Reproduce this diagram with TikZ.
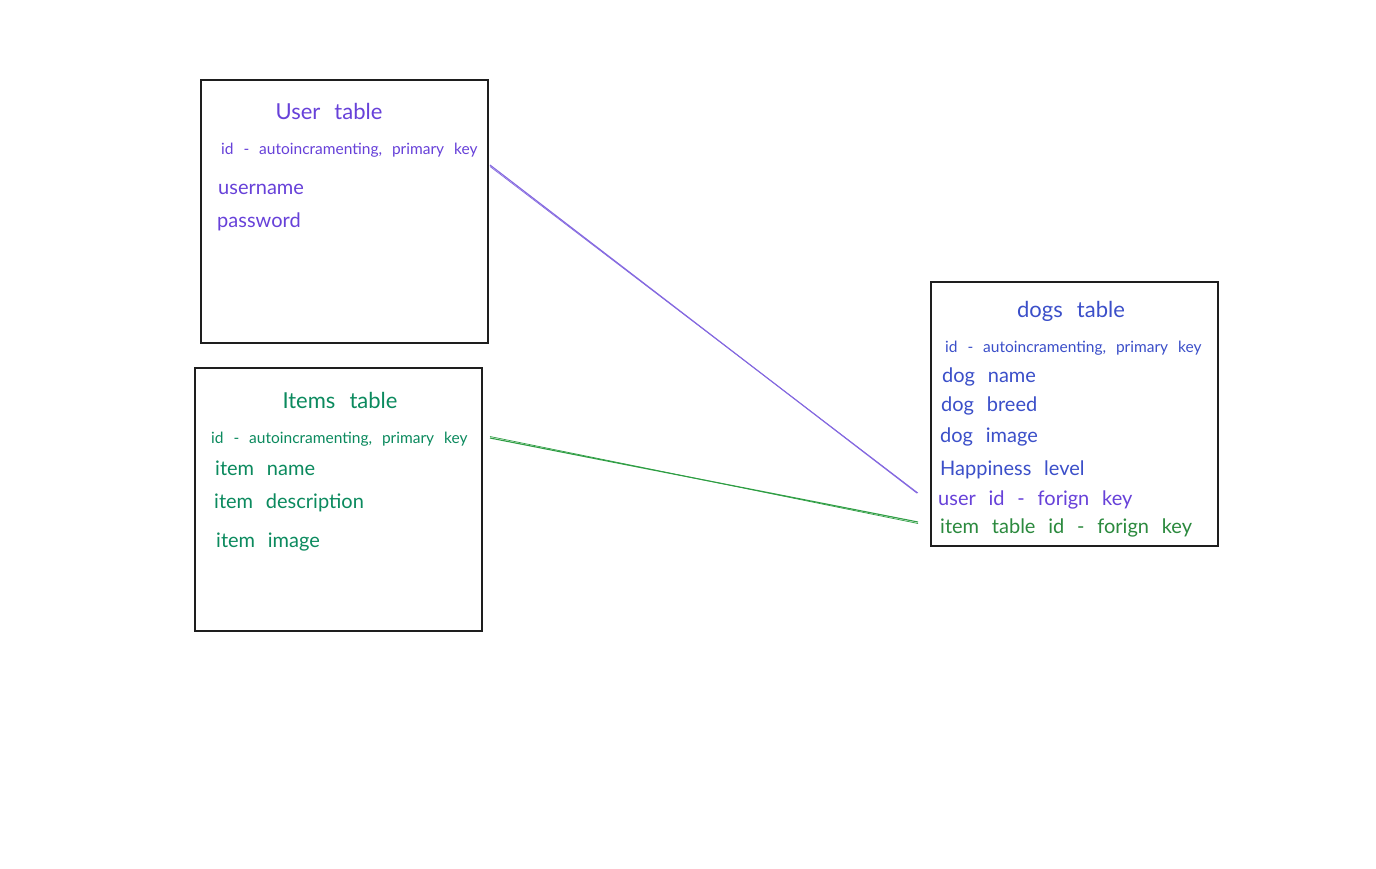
\documentclass[tikz,border=0pt]{standalone}
\usepackage{fontspec}
\setmainfont{Lato}[WordSpace=2.5]
\definecolor{userc}{HTML}{6741D9}
\definecolor{dogc}{HTML}{3B4FC9}
\definecolor{itemc}{HTML}{0B8A5E}
\definecolor{itemg}{HTML}{2B8A3E}
\definecolor{ulinec}{HTML}{8468E0}
\definecolor{glinec}{HTML}{2F9E44}
\definecolor{boxc}{HTML}{1E1E1E}
\tikzset{
  tablebox/.style={draw=boxc, line width=1.6pt},
  ttitle/.style={anchor=base, inner sep=0pt, font=\fontsize{22}{24}\selectfont},
  tidline/.style={anchor=base west, inner sep=0pt, font=\fontsize{15.5}{18}\selectfont},
  tfield/.style={anchor=base west, inner sep=0pt, font=\fontsize{20}{24}\selectfont},
  relline/.style={line width=1.1pt},
}
\begin{document}
\begin{tikzpicture}[x=1pt,y=-1pt]
\useasboundingbox[fill=white] (0,0) rectangle (1376,868);
% boxes
\draw[tablebox] (201,80) rectangle (488,343);
\draw[tablebox] (195,368) rectangle (482,631);
\draw[tablebox] (931,282) rectangle (1218,546);
% user table
\node[ttitle, text=userc] (ut) at (329,119) {User table};
\node[tidline, text=userc] (uid) at (221,154) {id - autoincramenting, primary key};
\node[tfield, text=userc] (uname) at (218,194) {username};
\node[tfield, text=userc] (upass) at (217,227) {password};
% items table
\node[ttitle, text=itemc] (it) at (340,408) {Items table};
\node[tidline, text=itemc] (iid) at (211,443) {id - autoincramenting, primary key};
\node[tfield, text=itemc] (iname) at (215,475) {item name};
\node[tfield, text=itemc] (idesc) at (214,508) {item description};
\node[tfield, text=itemc] (iimg) at (216,547) {item image};
% dogs table
\node[ttitle, text=dogc] (dt) at (1071,317) {dogs table};
\node[tidline, text=dogc] (did) at (945,352) {id - autoincramenting, primary key};
\node[tfield, text=dogc] (dname) at (942,382) {dog name};
\node[tfield, text=dogc] (dbreed) at (941,411) {dog breed};
\node[tfield, text=dogc] (dimg) at (940,442) {dog image};
\node[tfield, text=dogc] (dhap) at (940,475) {Happiness level};
\node[tfield, text=userc] (duid) at (938,505) {user id - forign key};
\node[tfield, text=itemg] (diid) at (940,533) {item table id - forign key};
% connectors
\coordinate (us) at (490,165);
\coordinate (ue) at (917,493);
\coordinate (gs) at (490,438);
\coordinate (ge) at (918,522);
\draw[relline, ulinec] (us) -- (ue);
\draw[relline, ulinec, line width=0.7pt] ([yshift=-1.5pt]us) -- ([xshift=1pt]ue);
\draw[relline, glinec] (gs) -- (ge);
\draw[relline, glinec, line width=0.7pt] ([yshift=1.5pt]gs) -- ([yshift=-1.5pt]ge);
\end{tikzpicture}
\end{document}
